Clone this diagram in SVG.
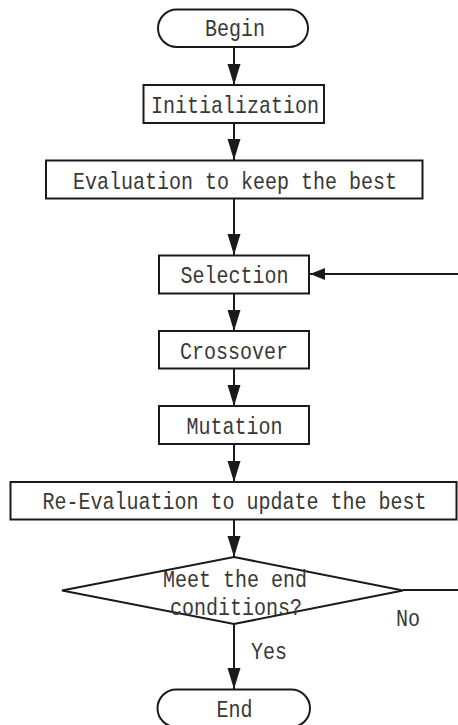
<svg xmlns="http://www.w3.org/2000/svg" width="458" height="725" viewBox="0 0 458 725">
  <style>
    .shape { fill: #ffffff; stroke: #1a1a1a; stroke-width: 2; }
    .link { fill: none; stroke: #1a1a1a; stroke-width: 2; }
    .label { font-family: "Liberation Mono", "DejaVu Sans Mono", monospace; font-size: 20px; fill: #383838; }
    .mid { text-anchor: middle; }
  </style>
  <defs>
    <marker id="head" markerUnits="userSpaceOnUse" markerWidth="22" markerHeight="14" refX="21" refY="7" orient="auto">
      <path d="M0,0.5 L21,7 L0,13.5 Z" fill="#1a1a1a"/>
    </marker>
    <marker id="head-small" markerUnits="userSpaceOnUse" markerWidth="16" markerHeight="14" refX="15" refY="7" orient="auto">
      <path d="M0,1 L15,7 L0,13 Z" fill="#1a1a1a"/>
    </marker>
  </defs>

  <!-- connectors -->
  <g id="connectors">
    <line class="link" x1="234" y1="47" x2="234" y2="85" marker-end="url(#head)"/>
    <line class="link" x1="234" y1="123" x2="234" y2="160" marker-end="url(#head)"/>
    <line class="link" x1="234" y1="198" x2="234" y2="255" marker-end="url(#head)"/>
    <line class="link" x1="234" y1="293" x2="234" y2="331" marker-end="url(#head)"/>
    <line class="link" x1="234" y1="368" x2="234" y2="406" marker-end="url(#head)"/>
    <line class="link" x1="234" y1="444" x2="234" y2="482" marker-end="url(#head)"/>
    <line class="link" x1="234" y1="519" x2="234" y2="557" marker-end="url(#head)"/>
    <line class="link" x1="234" y1="624" x2="234" y2="689" marker-end="url(#head)"/>
    <!-- "No" branch loops back to Selection -->
    <path class="link" d="M403,590 H462 V274 H310" marker-end="url(#head-small)"/>
    <text class="label" transform="translate(396,626) scale(1,1.2)">No</text>
    <text class="label" transform="translate(251,659) scale(1,1.2)">Yes</text>
  </g>

  <g id="begin">
    <rect class="shape" x="158" y="9.5" width="150" height="37.5" rx="18.75"/>
    <text class="label mid" transform="translate(235,36) scale(1,1.2)">Begin</text>
  </g>

  <g id="initialization">
    <rect class="shape" x="143.5" y="85" width="180.5" height="38"/>
    <text class="label mid" transform="translate(235,113) scale(1,1.2)">Initialization</text>
  </g>

  <g id="evaluation">
    <rect class="shape" x="46" y="160.5" width="376.5" height="38"/>
    <text class="label mid" transform="translate(235,189) scale(1,1.2)">Evaluation to keep the best</text>
  </g>

  <g id="selection">
    <rect class="shape" x="159" y="255.5" width="150" height="38"/>
    <text class="label mid" transform="translate(234.5,283) scale(1,1.2)">Selection</text>
  </g>

  <g id="crossover">
    <rect class="shape" x="159" y="331" width="150" height="37.5"/>
    <text class="label mid" transform="translate(234,359) scale(1,1.2)">Crossover</text>
  </g>

  <g id="mutation">
    <rect class="shape" x="159" y="406" width="150" height="38"/>
    <text class="label mid" transform="translate(234.5,434) scale(1,1.2)">Mutation</text>
  </g>

  <g id="re-evaluation">
    <rect class="shape" x="10.5" y="482" width="446" height="37.5"/>
    <text class="label mid" transform="translate(234.5,509) scale(1,1.2)">Re-Evaluation to update the best</text>
  </g>

  <g id="end-condition">
    <polygon class="shape" points="234,557 403,590.5 234,624 62,590.5"/>
    <text class="label mid" transform="translate(235,587) scale(1,1.2)">Meet the end</text>
    <text class="label mid" transform="translate(236,615) scale(1,1.2)">conditions?</text>
  </g>

  <g id="end">
    <rect class="shape" x="157.5" y="689.5" width="152.5" height="37.5" rx="18.75"/>
    <text class="label mid" transform="translate(234.5,717) scale(1,1.2)">End</text>
  </g>
</svg>
